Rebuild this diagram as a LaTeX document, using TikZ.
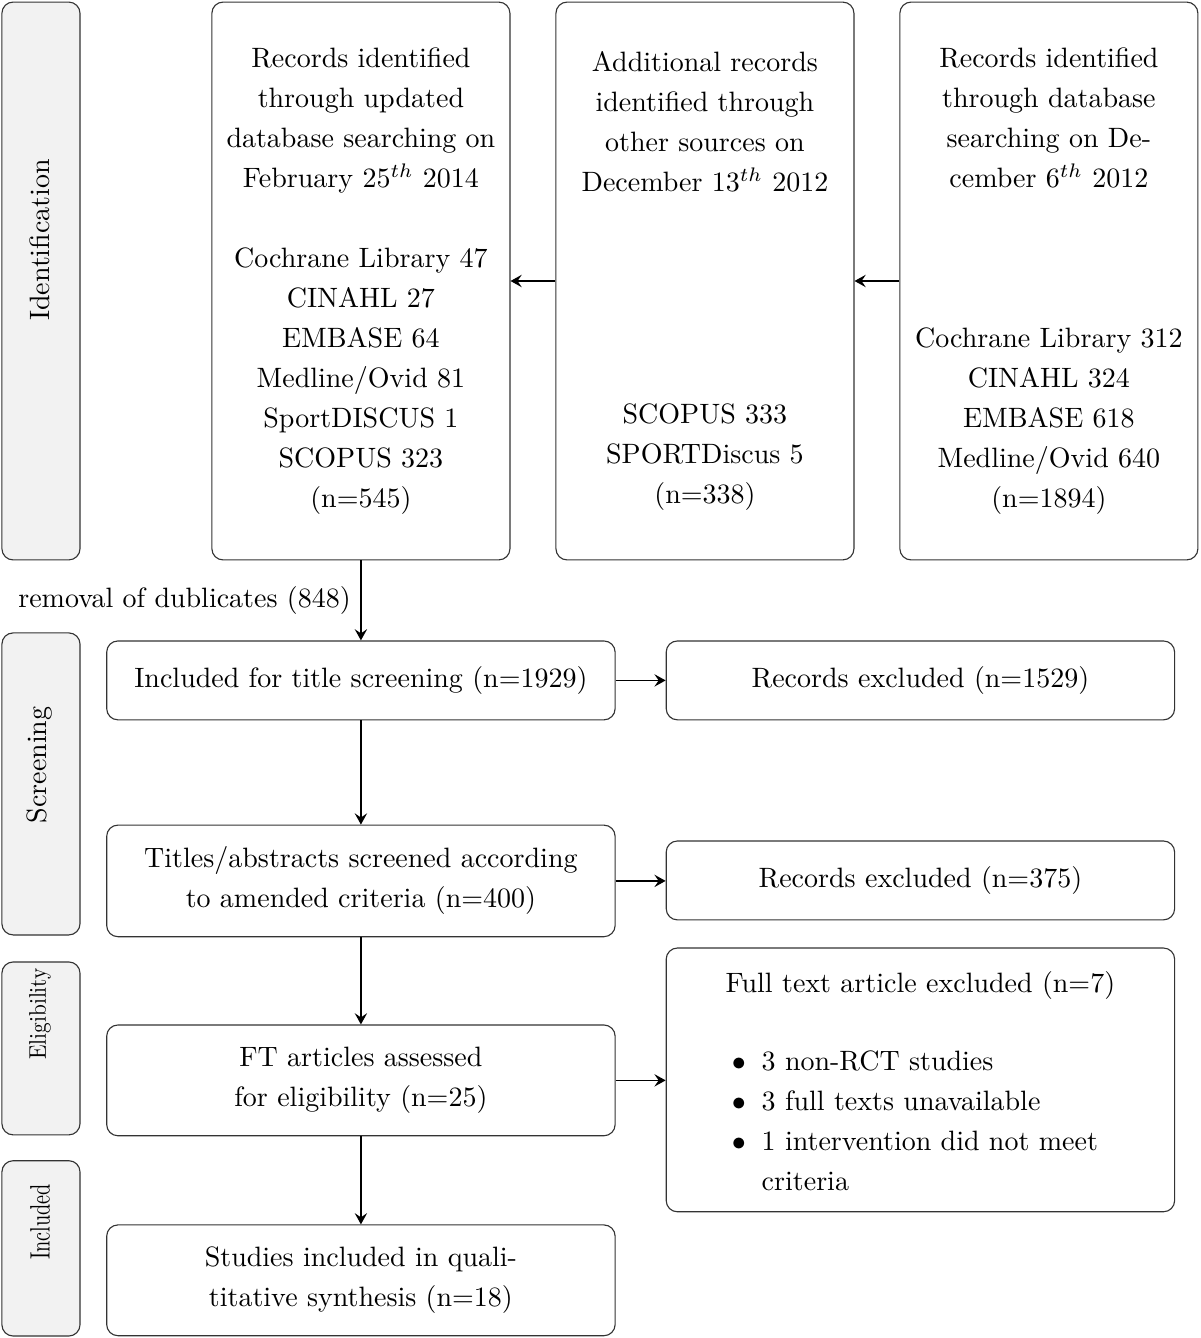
\documentclass[tikz,border=0pt]{standalone}
\usetikzlibrary{positioning,arrows.meta}

\newcommand{\flowfont}{\fontsize{10}{14.3}\selectfont}

\tikzset{
    phase/.style={draw=black!80, fill=black!5, rounded corners, minimum width=0.98cm},
    source/.style={draw=black!80, rounded corners, minimum width=3.74cm, minimum height=7cm},
    stage/.style={draw=black!80, rounded corners, align=center, minimum width=6.38cm},
    flow/.style={semithick, ->}
}

\begin{document}
\begin{tikzpicture}[y=-1cm, font=\flowfont, >={Stealth[length=4pt,width=4.4pt,inset=1.5pt]}]
    \useasboundingbox (0,0) rectangle (15.06,16.79);

    % phases on the left
    \node[phase, minimum height=7.00cm] (ident) at (0.514,3.526) {};
    \node[phase, minimum height=3.79cm] (screen) at (0.514,9.837) {};
    \node[phase, minimum height=2.17cm] (elig) at (0.514,13.156) {};
    \node[phase, minimum height=2.20cm] (incl) at (0.514,15.665) {};
    \node[rotate=90] (identlbl) at (0.502,3.011) {Identification};
    \node[rotate=90] (screenlbl) at (0.502,9.598) {Screening};
    \node[rotate=90, xscale=0.76, yscale=0.86] (eliglbl) at (0.502,12.723) {Eligibility};
    \node[rotate=90, xscale=0.72] (incllbl) at (0.502,15.333) {Included};

    % identification
    \node[source] (upd) at (4.529,3.526) {};
    \node[source] (other) at (8.846,3.526) {};
    \node[source] (db) at (13.162,3.526) {};
    \node[align=center, below=0.45cm of upd.north] (updtitle)
        {Records identified\\through updated\\database searching on\\February 25$^{th}$ 2014};
    \node[align=center, above=0.45cm of upd.south] (updlist)
        {Cochrane Library 47\\CINAHL 27\\EMBASE 64\\Medline/Ovid 81\\SportDISCUS 1\\SCOPUS 323\\(n=545)};
    \node[align=center, below=0.5cm of other.north] (othertitle)
        {Additional records\\identified through\\other sources on\\December 13$^{th}$ 2012};
    \node[align=center, above=0.5cm of other.south] (otherlist)
        {SCOPUS 333\\SPORTDiscus 5\\(n=338)};
    \node[align=center, below=0.45cm of db.north] (dbtitle)
        {Records identified\\through database\\searching on De-\\cember 6$^{th}$ 2012};
    \node[align=center, above=0.45cm of db.south] (dblist)
        {Cochrane Library 312\\CINAHL 324\\EMBASE 618\\Medline/Ovid 640\\(n=1894)};

    % screening, eligibility, included
    \node[stage, minimum height=0.99cm] (titles) at (4.529,8.538) {Included for title screening (n=1929)};
    \node[stage, minimum height=1.40cm] (abstracts) at (4.529,11.054) {Titles/abstracts screened according\\to amended criteria (n=400)};
    \node[stage, minimum height=1.39cm] (fulltext) at (4.529,13.557) {FT articles assessed\\for eligibility (n=25)};
    \node[stage, minimum height=1.39cm] (synth) at (4.529,16.066) {Studies included in quali-\\titative synthesis (n=18)};

    \node[stage, minimum height=0.99cm] (excl1) at (11.550,8.538) {Records excluded (n=1529)};
    \node[stage, minimum height=0.99cm] (excl2) at (11.550,11.048) {Records excluded (n=375)};
    \node[stage, minimum height=3.31cm] (excl3) at (11.550,13.551) {\rule{0pt}{12.5pt}Full text article excluded (n=7)\\[14.3pt]
        \hspace*{-4pt}\begin{tabular}{@{}l@{\hspace{5.7pt}}l@{}}
            $\bullet$ & 3 non-RCT studies\\
            $\bullet$ & 3 full texts unavailable\\
            $\bullet$ & 1 intervention did not meet\\
                      & criteria
        \end{tabular}};

    % connectors
    \draw[flow] (db.west) -- (other.east);
    \draw[flow] (other.west) -- (upd.east);
    \draw[flow] (upd.south) -- node[left] {removal of dublicates (848)} (titles.north);
    \draw[flow] (titles) -- (abstracts);
    \draw[flow] (abstracts) -- (fulltext);
    \draw[flow] (fulltext) -- (synth);
    \draw[flow] (titles) -- (excl1);
    \draw[flow] (abstracts.east) -- (excl2.west |- abstracts.east);
    \draw[flow] (fulltext.east) -- (excl3.west |- fulltext.east);
\end{tikzpicture}
\end{document}
